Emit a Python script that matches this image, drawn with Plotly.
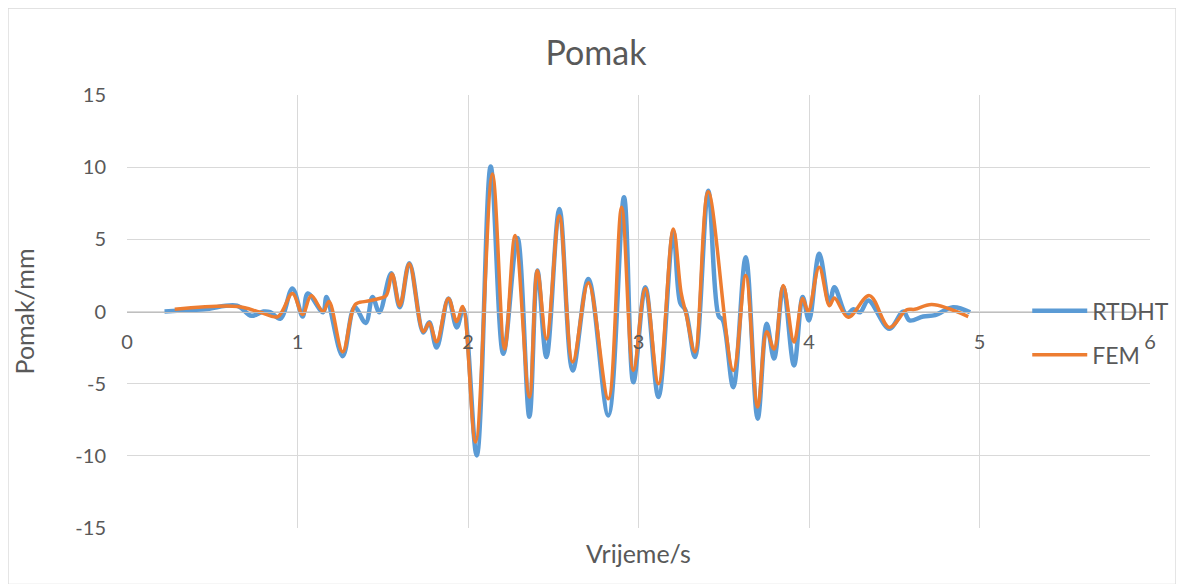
import plotly.graph_objects as go

# ---- data ----
t_rtdht = [0.22, 0.45, 0.645, 0.73, 0.80, 0.84, 0.90, 0.97, 1.03, 1.06, 1.15, 1.17, 1.265, 1.335,
           1.40, 1.44, 1.48, 1.55, 1.60, 1.656, 1.738, 1.773, 1.816, 1.885, 1.934, 1.972,
           2.051, 2.133, 2.207, 2.29, 2.36, 2.407, 2.46, 2.536, 2.614, 2.706, 2.823, 2.915,
           2.97, 3.04, 3.117, 3.204, 3.245, 3.275, 3.331, 3.409, 3.47, 3.495, 3.556, 3.629,
           3.699, 3.752, 3.795, 3.849, 3.912, 3.963, 4.0, 4.06, 4.12, 4.149, 4.22, 4.26,
           4.30, 4.348, 4.471, 4.553, 4.59, 4.67, 4.74, 4.845, 4.945]
y_rtdht = [0.0, 0.15, 0.4, -0.3, 0.0, -0.05, -0.5, 1.6, -0.35, 1.25, -0.05, 1.0, -3.1, 0.3,
           -0.8, 1.0, -0.05, 2.65, 0.3, 3.35, -1.45, -0.75, -2.5, 0.9, -1.1, 0.2,
           -9.97, 10.04, -2.93, 5.1, -7.3, 2.84, -3.16, 7.1, -4.08, 2.26, -7.2, 7.91,
           -4.9, 1.68, -5.93, 5.5, 0.6, 0.1, -3.16, 8.37, -0.3, -0.6, -5.24, 3.76,
           -7.43, -0.85, -3.26, 1.7, -3.74, 1.0, -0.62, 4.0, 0.53, 1.68, -0.2, 0.15,
           -0.05, 0.76, -1.2, 0.0, -0.62, -0.35, -0.25, 0.3, -0.05]

t_fem = [0.28, 0.65, 0.78, 0.885, 0.97, 1.03, 1.08, 1.15, 1.185, 1.265, 1.34, 1.40, 1.48,
         1.52, 1.555, 1.60, 1.656, 1.738, 1.773, 1.816, 1.885, 1.934, 1.969, 2.044, 2.143,
         2.215, 2.276, 2.36, 2.407, 2.46, 2.536, 2.614, 2.706, 2.823, 2.901, 2.97, 3.04,
         3.117, 3.204, 3.25, 3.28, 3.331, 3.409, 3.556, 3.629, 3.699, 3.752, 3.795, 3.849,
         3.912, 3.963, 3.995, 4.06, 4.12, 4.149, 4.23, 4.354, 4.471, 4.573, 4.62, 4.72, 4.934]
y_fem = [0.16, 0.35, -0.05, -0.35, 1.25, -0.2, 1.1, 0.0, 0.7, -2.8, 0.5, 0.7, 0.9,
         1.1, 2.6, 0.4, 3.3, -1.4, -0.8, -2.1, 0.9, -0.7, 0.35, -9.05, 9.53,
         -2.6, 5.26, -5.93, 2.84, -1.9, 6.64, -3.5, 2.0, -6.04, 7.22, -4.08, 1.6,
         -5.0, 5.72, 1.3, -0.2, -2.8, 8.3, -4.08, 2.49, -6.62, -1.4, -2.6, 1.8,
         -2.12, 0.9, 0.0, 3.07, 0.4, 0.94, -0.4, 1.1, -1.1, 0.12, 0.15, 0.48, -0.35]

x_ticks = [0, 1, 2, 3, 4, 5, 6]
y_ticks = [-15, -10, -5, 0, 5, 10, 15]

title_text = "Pomak"
x_title = "Vrijeme/s"
y_title = "Pomak/mm"

FONT = "Lato, Calibri, Carlito, sans-serif"
GREY = "#595959"
GRID = "#D9D9D9"

fig = go.Figure()
fig.add_trace(go.Scatter(x=t_rtdht, y=y_rtdht, mode="lines", name="RTDHT",
                         legendgroup="a",
                         line=dict(color="#5B9BD5", width=4.5, shape="spline", smoothing=1)))
fig.add_trace(go.Scatter(x=t_fem, y=y_fem, mode="lines", name="FEM",
                         legendgroup="b",
                         line=dict(color="#ED7D31", width=3.5, shape="spline", smoothing=1)))

fig.update_layout(
    width=1176, height=576,
    margin=dict(l=119, r=34, t=87, b=56, autoexpand=False),
    paper_bgcolor="white", plot_bgcolor="white",
    font=dict(family=FONT, color=GREY, size=20),
    title=dict(text=title_text, x=0.5, xanchor="center", y=0.922, yanchor="middle",
               font=dict(size=34, color=GREY, family=FONT)),
    showlegend=True,
    legend=dict(x=0.880, y=0.551, xanchor="left", yanchor="top",
                bgcolor="rgba(0,0,0,0)", tracegroupgap=11, itemwidth=55,
                font=dict(size=23, color=GREY, family=FONT)),
    xaxis=dict(range=[0, 6], tickvals=x_ticks, ticktext=[str(v) for v in x_ticks],
               showgrid=True, gridcolor=GRID, gridwidth=1.3,
               zeroline=False, showline=True, linecolor="#BFBFBF", linewidth=1.3,
               anchor="free", position=0.5, ticks="", ticklen=0,
               ticklabelstandoff=12,
               tickfont=dict(size=20, color=GREY)),
    yaxis=dict(range=[-15, 15], tickvals=y_ticks, ticktext=[str(v) for v in y_ticks],
               showgrid=True, gridcolor=GRID, gridwidth=1.3,
               zeroline=False, showline=False, ticks="", ticklen=0,
               ticklabelstandoff=20,
               tickfont=dict(size=20, color=GREY),
               title=dict(text=y_title, font=dict(size=25, color=GREY), standoff=33)),
)

# x-axis title at the bottom (the axis itself crosses at y=0)
fig.add_annotation(text=x_title, xref="paper", yref="paper", x=0.5, y=0,
                   xanchor="center", yanchor="top", yshift=-8, showarrow=False,
                   font=dict(size=25, color=GREY, family=FONT))

# chart-area border
fig.add_shape(type="rect", xref="paper", yref="paper",
              x0=-0.1163, x1=1.0254, y0=-0.13, y1=1.2009,
              line=dict(color=GRID, width=1.3), fillcolor="rgba(0,0,0,0)", layer="below")

fig.write_html("out.html")
